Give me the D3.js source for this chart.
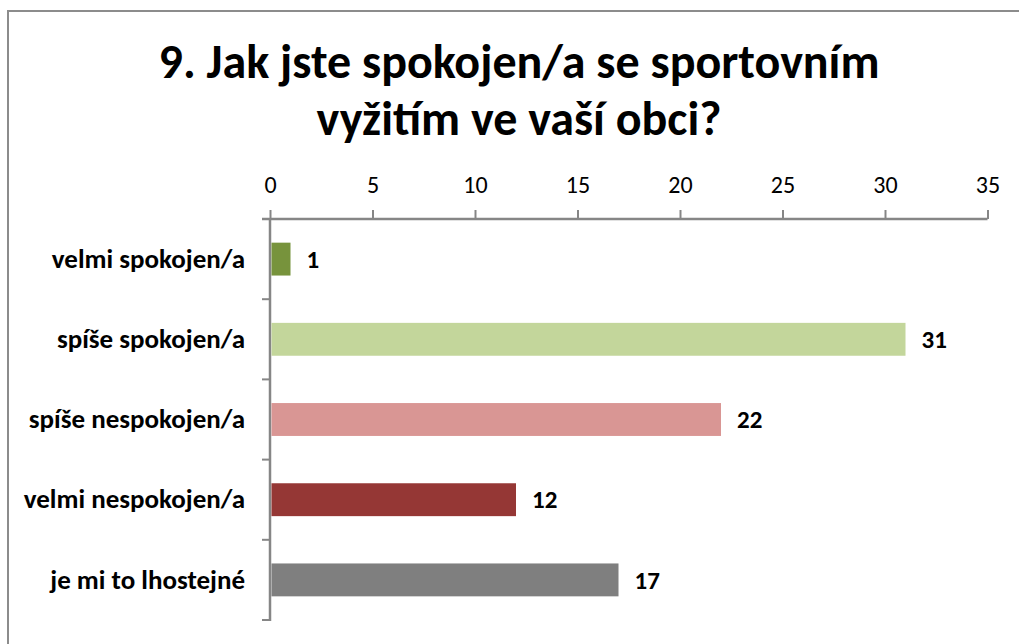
<!DOCTYPE html>
<html lang="cs">
<head>
<meta charset="UTF-8">
<title>Sportovní vyžití</title>
<script src="https://cdnjs.cloudflare.com/ajax/libs/d3/7.8.5/d3.min.js"></script>
<style>
  body { margin: 0; background: #fff; }
  svg { display: block; font-family: Carlito, Lato, "Open Sans", sans-serif; }
</style>
</head>
<body>
<div id="chart"></div>
<script>
// data
var categories = ["velmi spokojen/a", "spíše spokojen/a", "spíše nespokojen/a", "velmi nespokojen/a", "je mi to lhostejné"];
var values = [1, 31, 22, 12, 17];
var colors = ["#77933c", "#c3d69b", "#d99694", "#953735", "#7f7f7f"];
var tickValues = [0, 5, 10, 15, 20, 25, 30, 35];
var titleLines = ["9. Jak jste spokojen/a se sportovním", "vyžitím ve vaší obci?"];

var w = 1019, h = 644;
var plotLeft = 270, plotRight = 987.5, plotTop = 219, plotBottom = 620;
var axisColor = "#868686";

var svg = d3.select("#chart").append("svg")
    .attr("width", w)
    .attr("height", h);

// chart frame (only left and top edges are in the picture)
svg.append("rect")
    .attr("x", 8).attr("y", 11)
    .attr("width", w + 20).attr("height", h + 20)
    .attr("fill", "#fff")
    .attr("stroke", "#8c8c8c")
    .attr("stroke-width", 2);

// title
svg.append("text")
    .attr("text-anchor", "middle")
    .attr("font-weight", "bold")
    .attr("font-size", "48px")
    .attr("fill", "#000")
    .selectAll("tspan")
    .data(titleLines)
    .enter().append("tspan")
    .attr("x", 519)
    .attr("y", function(d, i) { return 78 + i * 57; })
    .text(function(d) { return d; });

var x = d3.scaleLinear().domain([0, 35]).range([plotLeft, plotRight]);
var y = d3.scaleBand().domain(categories).range([plotTop, plotBottom])
    .paddingInner(0.59).paddingOuter(0.295);

// top value axis
var xAxis = svg.append("g")
    .attr("transform", "translate(0," + plotTop + ")")
    .call(d3.axisTop(x).tickValues(tickValues).tickSize(9).tickPadding(17).tickSizeOuter(0));
xAxis.select(".domain").attr("stroke", axisColor).attr("stroke-width", 2.5)
    .attr("d", "M" + (plotLeft - 8) + ",0H" + plotRight);
xAxis.selectAll(".tick line").attr("stroke", axisColor).attr("stroke-width", 2);
xAxis.selectAll(".tick text")
    .attr("font-family", "Carlito, Lato, sans-serif")
    .attr("font-size", "24px")
    .attr("fill", "#000");

// left category axis, labels only
var yAxis = svg.append("g")
    .attr("transform", "translate(" + plotLeft + ",0)")
    .call(d3.axisLeft(y).tickSize(0).tickPadding(25));
yAxis.select(".domain").remove();
yAxis.selectAll(".tick text")
    .attr("font-family", "Carlito, Lato, sans-serif")
    .attr("font-size", "27px")
    .attr("font-weight", "bold")
    .attr("fill", "#000");

// vertical axis line with tick marks between categories
var step = y.step();
var bounds = d3.range(categories.length + 1).map(function(i) { return plotTop + i * step; });
svg.append("line")
    .attr("x1", plotLeft).attr("x2", plotLeft)
    .attr("y1", plotTop).attr("y2", plotBottom + 1)
    .attr("stroke", axisColor).attr("stroke-width", 2.5);
svg.selectAll(".ytick")
    .data(bounds)
    .enter().append("line")
    .attr("class", "ytick")
    .attr("x1", plotLeft - 8).attr("x2", plotLeft)
    .attr("y1", function(d) { return d; })
    .attr("y2", function(d) { return d; })
    .attr("stroke", axisColor).attr("stroke-width", 2);

// bars
svg.selectAll(".bar")
    .data(values)
    .enter().append("rect")
    .attr("class", "bar")
    .attr("x", x(0) + 1.5)
    .attr("y", function(d, i) { return y(categories[i]); })
    .attr("width", function(d) { return x(d) - x(0) - 1.5; })
    .attr("height", y.bandwidth())
    .attr("fill", function(d, i) { return colors[i]; });

// value labels
svg.selectAll(".val")
    .data(values)
    .enter().append("text")
    .attr("class", "val")
    .attr("x", function(d) { return x(d) + 16; })
    .attr("y", function(d, i) { return y(categories[i]) + y.bandwidth() / 2; })
    .attr("dy", "0.35em")
    .attr("font-size", "25px")
    .attr("font-weight", "bold")
    .attr("fill", "#000")
    .text(function(d) { return d; });
</script>
</body>
</html>
